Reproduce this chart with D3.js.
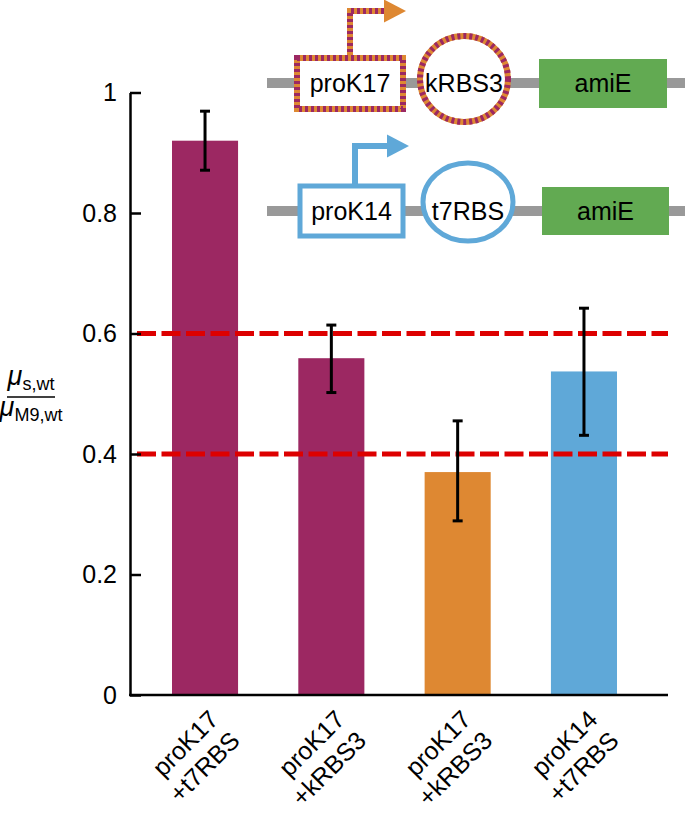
<!DOCTYPE html>
<html>
<head>
<meta charset="utf-8">
<script src="https://cdn.jsdelivr.net/npm/d3@7"></script>
<style>
  body { margin: 0; background: #fff; }
  svg { display: block; font-family: "Liberation Sans", Arial, Helvetica, sans-serif; }
</style>
</head>
<body>
<div class="container"></div>
<script>
// data
var categories = ["proK17\n+t7RBS", "proK17\n+kRBS3", "proK17\n+kRBS3 ", "proK14\n+t7RBS"];
var means   = [0.920, 0.559, 0.370, 0.537];
var errLow  = [0.871, 0.502, 0.289, 0.431];
var errHigh = [0.969, 0.614, 0.455, 0.642];
var thresholds = [0.4, 0.6];
var yTicks = [0, 0.2, 0.4, 0.6, 0.8, 1];
var yTickLabels = ["0", "0.2", "0.4", "0.6", "0.8", "1"];

var barColors = ["#9c2862", "#9c2862", "#de8832", "#5fa8d8"];
var purple = "#9c2862", orange = "#de8832", blue = "#5fa8d8", green = "#62aa52";

var width = 685, height = 814;

var svg = d3.select('.container').append('svg')
  .attr('width', width).attr('height', height);

var x = d3.scaleBand()
  .domain(categories)
  .range([172, 617])
  .paddingInner(0.477)
  .paddingOuter(0);

var y = d3.scaleLinear()
  .domain([0, 1])
  .range([695, 92.5]);

// bars
svg.selectAll('rect.bar')
  .data(means)
  .enter()
  .append('rect')
  .attr('class', 'bar')
  .attr('x', function(d, i){ return x(categories[i]); })
  .attr('y', function(d){ return y(d); })
  .attr('width', x.bandwidth())
  .attr('height', function(d){ return y(0) - y(d); })
  .attr('fill', function(d, i){ return barColors[i]; });

// threshold lines
svg.selectAll('line.thr')
  .data(thresholds)
  .enter()
  .append('line')
  .attr('x1', 137).attr('x2', 668)
  .attr('y1', function(d){ return y(d); })
  .attr('y2', function(d){ return y(d); })
  .attr('stroke', '#dd0000')
  .attr('stroke-width', 5)
  .attr('stroke-dasharray', '19,5.5');

// error bars
var eb = svg.selectAll('g.err')
  .data(means)
  .enter()
  .append('g')
  .attr('transform', function(d, i){ return 'translate(' + (x(categories[i]) + x.bandwidth()/2) + ',0)'; });
eb.append('line')
  .attr('y1', function(d, i){ return y(errLow[i]); })
  .attr('y2', function(d, i){ return y(errHigh[i]); })
  .attr('stroke', '#000').attr('stroke-width', 3);
eb.append('line')
  .attr('x1', -5).attr('x2', 5)
  .attr('y1', function(d, i){ return y(errLow[i]); })
  .attr('y2', function(d, i){ return y(errLow[i]); })
  .attr('stroke', '#000').attr('stroke-width', 3);
eb.append('line')
  .attr('x1', -5).attr('x2', 5)
  .attr('y1', function(d, i){ return y(errHigh[i]); })
  .attr('y2', function(d, i){ return y(errHigh[i]); })
  .attr('stroke', '#000').attr('stroke-width', 3);

// y axis
var yAxis = d3.axisLeft(y)
  .tickValues(yTicks)
  .tickFormat(function(d, i){ return yTickLabels[i]; })
  .tickSizeInner(-11)
  .tickSizeOuter(0)
  .tickPadding(13);

var gy = svg.append('g')
  .attr('transform', 'translate(130,0)')
  .call(yAxis);
gy.select('.domain').attr('stroke-width', 2.5);
gy.selectAll('.tick line').attr('stroke-width', 2.5);
gy.selectAll('.tick text').attr('font-size', 25).attr('fill', '#000')
  .attr('font-family', '"Liberation Sans", Arial, sans-serif');

// x axis line
svg.append('line')
  .attr('x1', 129).attr('x2', 668)
  .attr('y1', y(0)).attr('y2', y(0))
  .attr('stroke', '#000').attr('stroke-width', 2.5);

// x category labels, rotated
var xl = svg.selectAll('text.xl')
  .data(categories)
  .enter()
  .append('text')
  .attr('class', 'xl')
  .attr('text-anchor', 'end')
  .attr('font-size', 25)
  .attr('transform', function(d){ return 'translate(' + (x(d) + x.bandwidth()/2 + 15) + ',721) rotate(-45)'; });
xl.append('tspan')
  .attr('x', 0).attr('dy', 0)
  .text(function(d){ return d.split('\n')[0]; });
xl.append('tspan')
  .attr('x', 0).attr('dy', '1.2em')
  .text(function(d){ return d.split('\n')[1].trim(); });

// y axis label (fraction)
var yl = svg.append('g').attr('font-size', 27).attr('text-anchor', 'middle');
yl.append('text').attr('x', 31).attr('y', 385)
  .html('<tspan font-style="italic">\u03bc</tspan><tspan font-size="18" dy="5">s,wt</tspan>');
yl.append('line').attr('x1', 7).attr('x2', 55).attr('y1', 397).attr('y2', 397)
  .attr('stroke', '#000').attr('stroke-width', 1.5);
yl.append('text').attr('x', 31).attr('y', 416)
  .html('<tspan font-style="italic">\u03bc</tspan><tspan font-size="18" dy="5">M9,wt</tspan>');

// construct diagrams
function construct(cy, promo, rbs, box, arrow, ell, style) {
  var g = svg.append('g');
  g.append('line').attr('x1', 267).attr('x2', 685).attr('y1', cy).attr('y2', cy)
    .attr('stroke', '#999').attr('stroke-width', 10);
  // promoter arrow
  var pts = [[arrow.x, box.y0], [arrow.x, arrow.y], [arrow.x1, arrow.y]];
  var arrowPath = d3.line()(pts);
  if (style === 'striped') {
    g.append('path').attr('d', arrowPath).attr('fill', 'none').attr('stroke', orange).attr('stroke-width', 6);
    g.append('path').attr('d', arrowPath).attr('fill', 'none').attr('stroke', purple).attr('stroke-width', 6).attr('stroke-dasharray', '3,3');
  } else {
    g.append('path').attr('d', arrowPath).attr('fill', 'none').attr('stroke', blue).attr('stroke-width', 6);
  }
  g.append('path')
    .attr('d', d3.line()([[arrow.x1 - 2, arrow.y - 11.5], [arrow.x2, arrow.y], [arrow.x1 - 2, arrow.y + 11.5]]) + 'Z')
    .attr('fill', style === 'striped' ? orange : blue);
  // promoter box
  var r = g.append('rect').attr('x', box.x0).attr('y', box.y0)
    .attr('width', box.x1 - box.x0).attr('height', box.y1 - box.y0).attr('fill', '#fff');
  var e = g.append('ellipse').attr('cx', ell.cx).attr('cy', ell.cy).attr('rx', ell.rx).attr('ry', ell.ry).attr('fill', '#fff');
  if (style === 'striped') {
    [r, e].forEach(function(s){ s.attr('stroke', orange).attr('stroke-width', 6); });
    g.append('rect').attr('x', box.x0).attr('y', box.y0)
      .attr('width', box.x1 - box.x0).attr('height', box.y1 - box.y0).attr('fill', 'none')
      .attr('stroke', purple).attr('stroke-width', 6).attr('stroke-dasharray', '3,3');
    g.append('ellipse').attr('cx', ell.cx).attr('cy', ell.cy).attr('rx', ell.rx).attr('ry', ell.ry).attr('fill', 'none')
      .attr('stroke', purple).attr('stroke-width', 6).attr('stroke-dasharray', '3,3');
  } else {
    [r, e].forEach(function(s){ s.attr('stroke', blue).attr('stroke-width', 5); });
  }
  // amiE
  g.append('rect').attr('x', ell.gx0).attr('y', box.y0 + 1)
    .attr('width', ell.gx1 - ell.gx0).attr('height', box.y1 - box.y0 - 2).attr('fill', green);
  g.append('text').attr('x', (box.x0 + box.x1)/2).attr('y', cy + 9).attr('text-anchor', 'middle').attr('font-size', 25).text(promo);
  g.append('text').attr('x', ell.cx).attr('y', cy + 9).attr('text-anchor', 'middle').attr('font-size', 25).text(rbs);
  g.append('text').attr('x', (ell.gx0 + ell.gx1)/2).attr('y', cy + 9).attr('text-anchor', 'middle').attr('font-size', 25).text('amiE');
}

construct(83, 'proK17', 'kRBS3',
  {x0: 297, x1: 403, y0: 58, y1: 109},
  {x: 350, y: 11, x1: 386, x2: 406},
  {cx: 464, cy: 79, rx: 44, ry: 43, gx0: 539, gx1: 667},
  'striped');

construct(211, 'proK14', 't7RBS',
  {x0: 300, x1: 403, y0: 186, y1: 236},
  {x: 355, y: 146, x1: 389, x2: 409},
  {cx: 468, cy: 202, rx: 45, ry: 39, gx0: 542, gx1: 669},
  'solid');
</script>
</body>
</html>
